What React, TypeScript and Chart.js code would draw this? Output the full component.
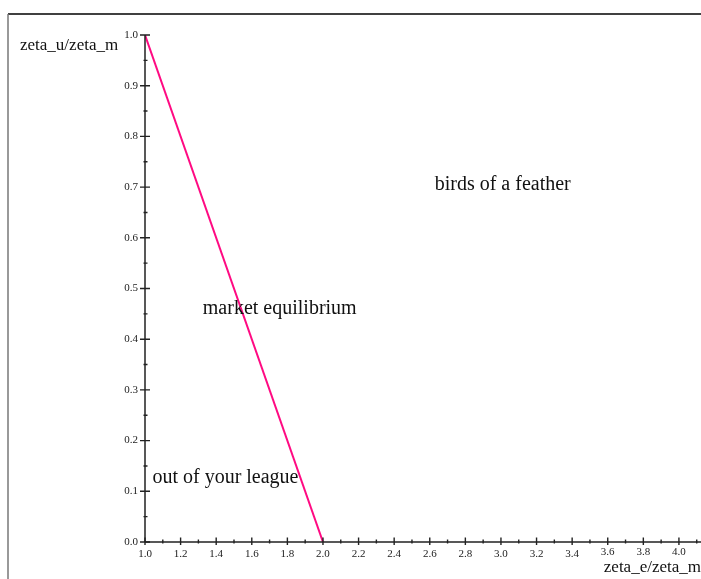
import React, { useEffect, useRef } from "react";
import { Chart, registerables } from "chart.js";

Chart.register(...registerables);

const linePoints = [
  { x: 1.0, y: 1.0 },
  { x: 2.0, y: 0.0 },
];

const xMajorTicks = [1.0, 1.2, 1.4, 1.6, 1.8, 2.0, 2.2, 2.4, 2.6, 2.8, 3.0, 3.2, 3.4, 3.6, 3.8, 4.0];
const xMinorTicks = [1.1, 1.3, 1.5, 1.7, 1.9, 2.1, 2.3, 2.5, 2.7, 2.9, 3.1, 3.3, 3.5, 3.7, 3.9, 4.1];
const yMajorTicks = [0.0, 0.1, 0.2, 0.3, 0.4, 0.5, 0.6, 0.7, 0.8, 0.9, 1.0];
const yMinorTicks = [0.05, 0.15, 0.25, 0.35, 0.45, 0.55, 0.65, 0.75, 0.85, 0.95];

const annotationTexts = ["birds of a feather", "market equilibrium", "out of your league"];
const annotationX = [3.01, 1.757, 1.452];
const annotationY = [0.704, 0.461, 0.127];

const xTitle = "zeta_e/zeta_m";
const yTitle = "zeta_u/zeta_m";

const SERIF = "'Liberation Serif', 'DejaVu Serif', serif";

const maplePlugin = {
  id: "mapleAxes",
  afterDraw(chart: any) {
    const ctx = chart.ctx;
    const xs = chart.scales.x;
    const ys = chart.scales.y;
    const x0 = xs.getPixelForValue(1.0);
    const y0 = ys.getPixelForValue(0.0);
    ctx.save();
    // frame
    ctx.strokeStyle = "#000";
    ctx.lineWidth = 1.5;
    ctx.beginPath();
    ctx.moveTo(8, 14);
    ctx.lineTo(chart.width, 14);
    ctx.stroke();
    ctx.strokeStyle = "#777";
    ctx.lineWidth = 1.5;
    ctx.beginPath();
    ctx.moveTo(8, 14);
    ctx.lineTo(8, chart.height);
    ctx.stroke();

    // axes
    ctx.strokeStyle = "#222";
    ctx.lineWidth = 1.5;
    ctx.beginPath();
    ctx.moveTo(x0, ys.getPixelForValue(1.0));
    ctx.lineTo(x0, y0);
    ctx.moveTo(x0, y0);
    ctx.lineTo(chart.width, y0);
    ctx.stroke();

    ctx.lineWidth = 1.4;
    ctx.beginPath();
    for (const v of yMajorTicks) {
      const p = ys.getPixelForValue(v);
      ctx.moveTo(x0 - 5, p);
      ctx.lineTo(x0 + 5, p);
    }
    for (const v of yMinorTicks) {
      const p = ys.getPixelForValue(v);
      ctx.moveTo(x0 - 1.5, p);
      ctx.lineTo(x0 + 2.5, p);
    }
    for (const v of xMajorTicks) {
      const p = xs.getPixelForValue(v);
      ctx.moveTo(p, y0 - 4.5);
      ctx.lineTo(p, y0 + 3);
    }
    for (const v of xMinorTicks) {
      const p = xs.getPixelForValue(v);
      ctx.moveTo(p, y0 - 2.5);
      ctx.lineTo(p, y0 + 1.5);
    }
    ctx.stroke();

    // tick labels
    ctx.fillStyle = "#222";
    ctx.font = `11px ${SERIF}`;
    ctx.textAlign = "right";
    ctx.textBaseline = "middle";
    for (const v of yMajorTicks) {
      ctx.fillText(v.toFixed(1), x0 - 7, ys.getPixelForValue(v));
    }
    ctx.textAlign = "center";
    ctx.textBaseline = "top";
    for (const v of xMajorTicks) {
      ctx.fillText(v.toFixed(1), xs.getPixelForValue(v), y0 + (v >= 3.5 ? 5 : 7));
    }

    // axis titles
    ctx.fillStyle = "#111";
    ctx.font = `17px ${SERIF}`;
    ctx.textAlign = "left";
    ctx.textBaseline = "middle";
    ctx.fillText(yTitle, 20, 46);
    ctx.textAlign = "right";
    ctx.textBaseline = "alphabetic";
    ctx.fillText(xTitle, chart.width, 572);

    // annotations
    ctx.font = `20px ${SERIF}`;
    ctx.textAlign = "center";
    ctx.textBaseline = "middle";
    for (let i = 0; i < annotationTexts.length; i++) {
      ctx.fillText(annotationTexts[i], xs.getPixelForValue(annotationX[i]), ys.getPixelForValue(annotationY[i]));
    }
    ctx.restore();
  },
};

export default function App() {
  const ref = useRef<HTMLCanvasElement | null>(null);
  useEffect(() => {
    if (!ref.current) return;
    const chart = new Chart(ref.current, {
      type: "scatter",
      data: {
        datasets: [
          {
            data: linePoints,
            showLine: true,
            borderColor: "#ff0a82",
            borderWidth: 2,
            pointRadius: 0,
            fill: false,
          },
        ],
      },
      options: {
        animation: false,
        responsive: false,
        maintainAspectRatio: false,
        layout: { padding: { left: 145, top: 35, right: 0, bottom: 37 } },
        plugins: { legend: { display: false }, tooltip: { enabled: false } },
        scales: {
          x: { type: "linear", min: 1.0, max: 4.124, display: false },
          y: { type: "linear", min: 0.0, max: 1.0, display: false },
        },
      },
      plugins: [maplePlugin],
    });
    return () => chart.destroy();
  }, []);
  return (
    <div style={{ position: "absolute", left: 0, top: 0, width: 701, height: 579, background: "#fff" }}>
      <canvas ref={ref} width={701} height={579} style={{ display: "block" }} />
    </div>
  );
}
